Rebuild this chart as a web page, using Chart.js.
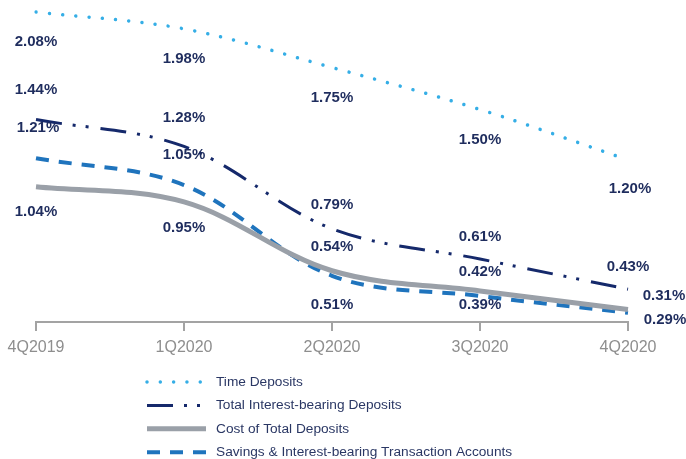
<!DOCTYPE html>
<html><head><meta charset="utf-8">
<script src="https://cdn.jsdelivr.net/npm/chart.js@4"></script>
<style>html,body{margin:0;padding:0;background:#fff;}#wrap{width:686px;height:459px;}</style>
</head><body><div id="wrap"><canvas id="c" width="686" height="459"></canvas></div>
<script>
const categories = ['4Q2019', '1Q2020', '2Q2020', '3Q2020', '4Q2020'];
const seriesNames = ['Time Deposits', 'Total Interest-bearing Deposits', 'Cost of Total Deposits', 'Savings & Interest-bearing Transaction Accounts'];
const timeDeposits = [2.08, 1.98, 1.75, 1.50, 1.20];
const totalInterestBearing = [1.44, 1.28, 0.79, 0.61, 0.43];
const costOfTotalDeposits = [1.04, 0.95, 0.54, 0.42, 0.31];
const savingsTransaction = [1.21, 1.05, 0.51, 0.39, 0.29];

const FONT = '"Liberation Sans", Arial, sans-serif';
const LABEL_COLOR = '#1f2d5e';

// label placement (pixel offsets from each point), layout only
const labelOffsets = [
  [[0,30],[0,30],[0,30],[0,30],[2,29]],
  [[0,-30],[0,-29],[0,-24],[0,-22],[0,-22]],
  [[0,25],[0,26],[0,-24],[0,-19],[36,-14]],
  [[2,-30],[0,-30],[0,29],[0,9],[37,7]]
];

const valueLabels = {
  id: 'valueLabels',
  afterDatasetsDraw(chart) {
    const ctx = chart.ctx;
    ctx.save();
    ctx.font = 'bold 15px ' + FONT;
    ctx.fillStyle = LABEL_COLOR;
    ctx.textAlign = 'center';
    ctx.textBaseline = 'middle';
    chart.data.datasets.forEach((ds, i) => {
      const meta = chart.getDatasetMeta(i);
      meta.data.forEach((pt, j) => {
        const off = labelOffsets[i][j];
        ctx.fillText(ds.data[j].toFixed(2) + '%', pt.x + off[0], pt.y + off[1]);
      });
    });
    ctx.restore();
  }
};

const customLegend = {
  id: 'customLegend',
  afterDraw(chart) {
    const ctx = chart.ctx;
    const top = chart.chartArea.bottom + 60;
    ctx.save();
    chart.data.datasets.forEach((ds, i) => {
      const y = top + i * 23.4;
      ctx.beginPath();
      ctx.strokeStyle = ds.borderColor;
      ctx.lineWidth = ds.borderWidth;
      ctx.lineCap = ds.borderCapStyle || 'butt';
      ctx.setLineDash(ds.borderDash || []);
      ctx.moveTo(147, y);
      ctx.lineTo(206, y);
      ctx.stroke();
      ctx.setLineDash([]);
      ctx.font = '13.7px ' + FONT;
      ctx.fillStyle = '#2a3764';
      ctx.textAlign = 'left';
      ctx.textBaseline = 'middle';
      ctx.fillText(ds.label, 216, y);
    });
    ctx.restore();
  }
};

new Chart(document.getElementById('c'), {
  type: 'line',
  data: {
    labels: categories,
    datasets: [
      { label: seriesNames[0], data: timeDeposits, borderColor: '#35aee6', borderWidth: 3.5, borderDash: [0.01, 13.3], borderCapStyle: 'round', tension: 0.35, pointRadius: 0, fill: false },
      { label: seriesNames[1], data: totalInterestBearing, borderColor: '#15296b', borderWidth: 3, borderDash: [26, 11, 3, 10, 3, 12], tension: 0.35, pointRadius: 0, fill: false },
      { label: seriesNames[2], data: costOfTotalDeposits, borderColor: '#9aa0a8', borderWidth: 5, tension: 0.35, pointRadius: 0, fill: false },
      { label: seriesNames[3], data: savingsTransaction, borderColor: '#1f74bd', borderWidth: 4, borderDash: [13, 10], tension: 0.35, pointRadius: 0, fill: false }
    ]
  },
  options: {
    responsive: false,
    animation: false,
    devicePixelRatio: 1,
    layout: { padding: { left: 36, right: 58, top: 4, bottom: 97 } },
    plugins: { legend: { display: false }, tooltip: { enabled: false } },
    scales: {
      y: { display: false, min: 0.235, max: 2.128 },
      x: {
        offset: false,
        afterFit(scale) { scale.height = 40; },
        border: { display: true, color: '#a3a3a3', width: 2 },
        grid: { display: true, drawOnChartArea: false, drawTicks: true, tickLength: 9, color: '#a3a3a3', lineWidth: 2 },
        ticks: { color: '#8e8e8e', font: { family: FONT, size: 16 }, padding: 7, maxRotation: 0 }
      }
    }
  },
  plugins: [valueLabels, customLegend]
});
</script>
</body></html>
